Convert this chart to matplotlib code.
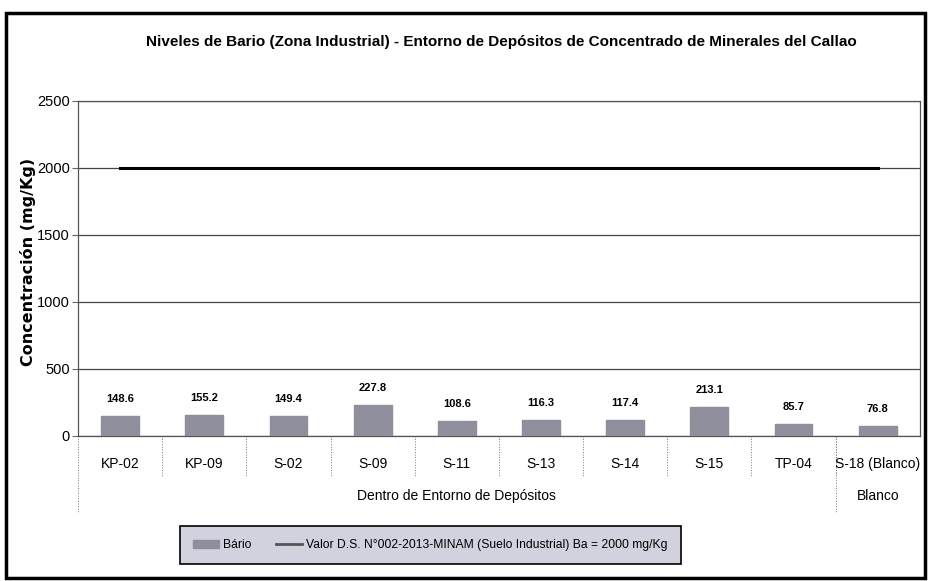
import matplotlib.pyplot as plt
from matplotlib.patches import Rectangle
from matplotlib.lines import Line2D
import numpy as np

plt.rcParams['font.family'] = ['Liberation Sans', 'DejaVu Sans']

estaciones = ["KP-02", "KP-09", "S-02", "S-09", "S-11", "S-13", "S-14", "S-15", "TP-04", "S-18 (Blanco)"]
bario = [148.6, 155.2, 149.4, 227.8, 108.6, 116.3, 117.4, 213.1, 85.7, 76.8]
grupos = ["Dentro de Entorno de Depósitos", "Blanco"]
n_grupo = [9, 1]
limite = 2000
yticks = [0, 500, 1000, 1500, 2000, 2500]

fig = plt.figure(figsize=(9.31, 5.81), dpi=100)
ax = fig.add_axes([0.0838, 0.2496, 0.9042, 0.5766])

x = np.arange(len(estaciones))
ax.bar(x, bario, width=0.45, color="#8e8e9c", edgecolor="#8e8e9c", zorder=3)
ax.plot(x, [limite] * len(x), color="black", lw=2.2, zorder=4)

for xi, v in zip(x, bario):
    ax.text(xi, v + 90, f"{v}", ha="center", va="bottom", fontsize=8, fontweight="bold")

ax.set_xlim(-0.5, len(x) - 0.5)
ax.set_ylim(0, 2500)
ax.set_yticks(yticks)
ax.set_yticklabels([str(t) for t in yticks], fontsize=10.5)
ax.yaxis.grid(True, color="#444444", lw=0.9, zorder=0)
ax.tick_params(axis="y", length=4, color="#666666", pad=2)
ax.set_xticks([])
for s in ["left", "right", "top", "bottom"]:
    ax.spines[s].set_color("#555555")
    ax.spines[s].set_linewidth(0.9)
ax.set_ylabel("Concentración (mg/Kg)", fontsize=11.5, fontweight="bold",
              family=["DejaVu Sans"])
ax.yaxis.set_label_coords(-0.05, 0.52)

# category labels and separators
for xi, lab in zip(x, estaciones):
    ax.text(xi, -0.085, lab, transform=ax.get_xaxis_transform(), ha="center",
            va="center", fontsize=10)
for b in np.arange(0.5, len(x) - 1, 1.0):
    ax.add_line(Line2D([b, b], [0, -0.12], transform=ax.get_xaxis_transform(),
                       color="#777777", lw=0.7, ls=":", clip_on=False))
ax.add_line(Line2D([-0.5, -0.5], [0, -0.23], transform=ax.get_xaxis_transform(),
                   color="#777777", lw=0.7, ls=":", clip_on=False))
start = -0.5
for g, n in zip(grupos, n_grupo):
    ax.text(start + n / 2, -0.18, g, transform=ax.get_xaxis_transform(),
            ha="center", va="center", fontsize=10)
    start += n
    if start < len(x) - 0.5:
        ax.add_line(Line2D([start, start], [0, -0.23], transform=ax.get_xaxis_transform(),
                           color="#777777", lw=0.7, ls=":", clip_on=False))

fig.text(0.539, 0.928, "Niveles de Bario (Zona Industrial) - Entorno de Depósitos de Concentrado de Minerales del Callao",
         ha="center", va="center", fontsize=11, fontweight="bold")

handles = [Rectangle((0, 0), 1, 1, color="#8e8e9c"),
           Line2D([], [], color="#555555", lw=2)]
labels = ["Bário", "Valor D.S. N°002-2013-MINAM (Suelo Industrial) Ba = 2000 mg/Kg"]
leg = fig.legend(handles, labels, loc="center", bbox_to_anchor=(0.462, 0.062), ncol=2,
                 fontsize=8.7, frameon=True, fancybox=False, edgecolor="black",
                 facecolor="#d2d2de", framealpha=1, handlelength=2.2, columnspacing=2.0,
                 handletextpad=0.3, borderpad=1.1, borderaxespad=0)
leg.get_frame().set_linewidth(1.2)

fig.patches.append(Rectangle((0.006, 0.006), 0.988, 0.972, transform=fig.transFigure,
                             fill=False, edgecolor="black", lw=2.5))

fig.savefig("out.png", dpi=100)
